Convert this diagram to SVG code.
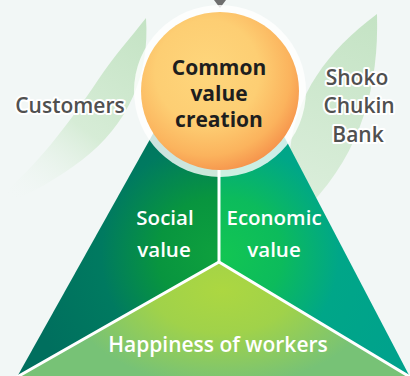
<svg xmlns="http://www.w3.org/2000/svg" width="410" height="376" viewBox="0 0 410 376">
  <defs>
    <style>
      .lbl { font-family: "Open Sans", "Noto Sans", "Liberation Sans", sans-serif; text-anchor: middle; }
      .outer { font-size: 21px; font-weight: 600; fill: #505050; stroke: #ffffff; stroke-width: 4px; stroke-linejoin: round; paint-order: stroke; }
      .core { font-size: 21px; font-weight: 700; fill: #1e1e1e; }
      .inner { font-size: 20.5px; font-weight: 600; fill: #ffffff; }
      .divider { stroke: #ffffff; stroke-width: 3; fill: none; }
    </style>
    <linearGradient id="leafL" x1="145" y1="20" x2="10" y2="200" gradientUnits="userSpaceOnUse">
      <stop offset="0" stop-color="#c4e3c4"/>
      <stop offset="0.55" stop-color="#d6ecd6"/>
      <stop offset="1" stop-color="#f2f7f6" stop-opacity="0"/>
    </linearGradient>
    <linearGradient id="leafR" x1="375" y1="15" x2="300" y2="200" gradientUnits="userSpaceOnUse">
      <stop offset="0" stop-color="#c4e3c4"/>
      <stop offset="1" stop-color="#dbeedb"/>
    </linearGradient>
    <radialGradient id="gSocial" cx="215" cy="255" r="190" gradientUnits="userSpaceOnUse">
      <stop offset="0" stop-color="#0ea03e"/>
      <stop offset="0.3" stop-color="#08953f"/>
      <stop offset="0.6" stop-color="#007a60"/>
      <stop offset="1" stop-color="#006f5e"/>
    </radialGradient>
    <radialGradient id="gEco" cx="225" cy="255" r="190" gradientUnits="userSpaceOnUse">
      <stop offset="0" stop-color="#12c553"/>
      <stop offset="0.3" stop-color="#0cbb5c"/>
      <stop offset="0.6" stop-color="#00a688"/>
      <stop offset="1" stop-color="#00a28c"/>
    </radialGradient>
    <radialGradient id="gWork" cx="222" cy="290" r="120" gradientTransform="translate(222 290) scale(1.3 0.8) translate(-222 -290)" gradientUnits="userSpaceOnUse">
      <stop offset="0" stop-color="#acd741"/>
      <stop offset="0.45" stop-color="#a0d24a"/>
      <stop offset="1" stop-color="#77c276"/>
    </radialGradient>
    <radialGradient id="gSun" cx="0.42" cy="0.38" r="0.66">
      <stop offset="0" stop-color="#fed67c"/>
      <stop offset="0.5" stop-color="#fdce73"/>
      <stop offset="0.8" stop-color="#fbb35d"/>
      <stop offset="1" stop-color="#f5904a"/>
    </radialGradient>
  </defs>

  <!-- backdrop -->
  <rect x="0" y="0" width="410" height="376" fill="#f2f7f6"/>

  <!-- leaf swooshes behind the side labels -->
  <path d="M146,18 C150,75 128,125 82,160 C58,178 30,195 0,206 L0,196 C35,168 68,125 98,80 C114,56 132,36 146,18 Z" fill="url(#leafL)"/>
  <path d="M377,14 C379,85 362,150 310,205 L290,150 C296,95 326,52 377,14 Z" fill="url(#leafR)"/>

  <!-- triangle regions -->
  <g id="social-region">
    <polygon points="220,14 219,262 17,377" fill="url(#gSocial)"/>
  </g>
  <g id="economic-region">
    <polygon points="220,14 410,377 219,262" fill="url(#gEco)"/>
  </g>
  <g id="workers-region">
    <polygon points="219,262 410,377 17,377" fill="url(#gWork)"/>
  </g>

  <!-- dividers between regions -->
  <g id="connectors">
    <polyline class="divider" points="17,377 219,262 410,377"/>
    <line class="divider" x1="219" y1="262" x2="219" y2="170"/>
    <polygon points="214,0 226,0 220,8" fill="#6e6e6e"/>
  </g>

  <!-- central circle -->
  <g id="common-value">
    <circle cx="220" cy="91" r="86" fill="#ffffff" fill-opacity="0.8"/>
    <circle cx="220" cy="91" r="79" fill="url(#gSun)"/>
    <text class="lbl core" x="219" y="75">Common</text>
    <text class="lbl core" x="219" y="101">value</text>
    <text class="lbl core" x="219" y="127">creation</text>
  </g>

  <g id="customers">
    <text class="lbl outer" x="70" y="113">Customers</text>
  </g>

  <g id="bank">
    <text class="lbl outer" x="357" y="85">Shoko</text>
    <text class="lbl outer" x="359" y="113">Chukin</text>
    <text class="lbl outer" x="358" y="142">Bank</text>
  </g>

  <g id="social">
    <text class="lbl inner" x="165" y="225">Social</text>
    <text class="lbl inner" x="164" y="257">value</text>
  </g>

  <g id="economic">
    <text class="lbl inner" x="274" y="225">Economic</text>
    <text class="lbl inner" x="274" y="257">value</text>
  </g>

  <g id="workers">
    <text class="lbl inner" x="218" y="352" style="font-size:21px">Happiness of workers</text>
  </g>
</svg>
